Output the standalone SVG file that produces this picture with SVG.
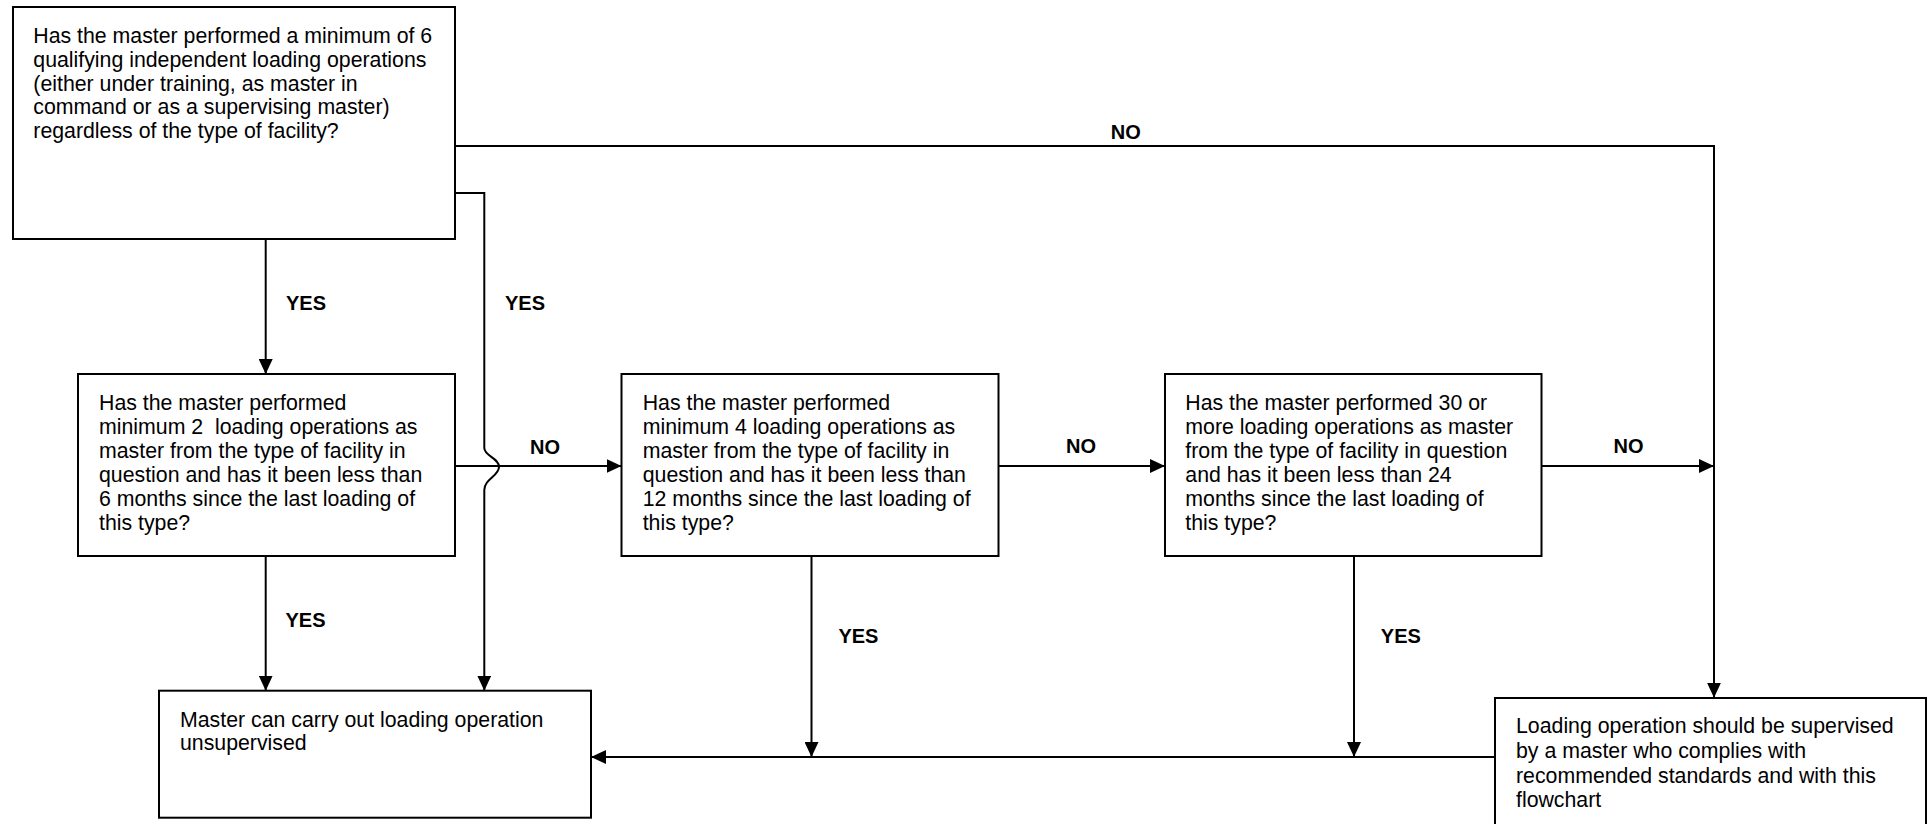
<svg xmlns="http://www.w3.org/2000/svg" width="1930" height="824" viewBox="0 0 1930 824">
<defs>
<style>
.box{fill:#fff;stroke:#000;stroke-width:2}
.t{font-family:"Liberation Sans",Arial,sans-serif;font-size:21.3px;fill:#000;white-space:pre}
.lbl{font-family:"Liberation Sans",Arial,sans-serif;font-size:20px;font-weight:bold;fill:#000}
.c{fill:none;stroke:#000;stroke-width:2}
</style>
<marker id="ah" viewBox="0 0 15 14" refX="15" refY="7" markerWidth="15" markerHeight="14" markerUnits="userSpaceOnUse" orient="auto">
<path d="M0,0 L15,7 L0,14 Z" fill="#000"/>
</marker>
</defs>
<rect width="1930" height="824" fill="#fff"/>
<g id="connectors">
<path class="c" d="M265.7,239 V374" marker-end="url(#ah)"/>
<path class="c" d="M455,193 H484.3 V448 C484.3,456 499,458 499,467 C499,476 484.3,479 484.3,490 V690.7" marker-end="url(#ah)"/>
<path class="c" d="M455,146 H1714 V697.7" marker-end="url(#ah)"/>
<path class="c" d="M455,466 H621.5" marker-end="url(#ah)"/>
<path class="c" d="M998.5,466 H1165" marker-end="url(#ah)"/>
<path class="c" d="M1541.5,466 H1714" marker-end="url(#ah)"/>
<path class="c" d="M265.7,556 V690.7" marker-end="url(#ah)"/>
<path class="c" d="M811.5,556 V757" marker-end="url(#ah)"/>
<path class="c" d="M1354,556 V757" marker-end="url(#ah)"/>
<path class="c" d="M1495,757 H591" marker-end="url(#ah)"/>
<text class="lbl" x="1110.7" y="139">NO</text>
<text class="lbl" x="286" y="310">YES</text>
<text class="lbl" x="505" y="310">YES</text>
<text class="lbl" x="530" y="454">NO</text>
<text class="lbl" x="1066" y="453">NO</text>
<text class="lbl" x="1613.5" y="453">NO</text>
<text class="lbl" x="285.5" y="626.7">YES</text>
<text class="lbl" x="838.4" y="642.7">YES</text>
<text class="lbl" x="1380.8" y="642.5">YES</text>
</g>
<g id="q1">
<rect class="box" x="13" y="7" width="442" height="232"/>
<text class="t" x="33.3" y="43.3">Has the master performed a minimum of 6</text>
<text class="t" x="33.3" y="67">qualifying independent loading operations</text>
<text class="t" x="33.3" y="90.7">(either under training, as master in</text>
<text class="t" x="33.3" y="114.3">command or as a supervising master)</text>
<text class="t" x="33.3" y="138">regardless of the type of facility?</text>
</g>
<g id="q2">
<rect class="box" x="78" y="374" width="377" height="182"/>
<text class="t" x="99" y="409.5">Has the master performed</text>
<text class="t" x="99" y="433.5">minimum 2  loading operations as</text>
<text class="t" x="99" y="457.5">master from the type of facility in</text>
<text class="t" x="99" y="481.7">question and has it been less than</text>
<text class="t" x="99" y="505.9">6 months since the last loading of</text>
<text class="t" x="99" y="530">this type?</text>
</g>
<g id="q3">
<rect class="box" x="621.5" y="374" width="377" height="182"/>
<text class="t" x="642.7" y="409.5">Has the master performed</text>
<text class="t" x="642.7" y="433.5">minimum 4 loading operations as</text>
<text class="t" x="642.7" y="457.5">master from the type of facility in</text>
<text class="t" x="642.7" y="481.7">question and has it been less than</text>
<text class="t" x="642.7" y="505.9">12 months since the last loading of</text>
<text class="t" x="642.7" y="530">this type?</text>
</g>
<g id="q4">
<rect class="box" x="1165" y="374" width="376.5" height="182"/>
<text class="t" x="1185.3" y="409.5">Has the master performed 30 or</text>
<text class="t" x="1185.3" y="433.5">more loading operations as master</text>
<text class="t" x="1185.3" y="457.5">from the type of facility in question</text>
<text class="t" x="1185.3" y="481.7">and has it been less than 24</text>
<text class="t" x="1185.3" y="505.9">months since the last loading of</text>
<text class="t" x="1185.3" y="530">this type?</text>
</g>
<g id="unsupervised">
<rect class="box" x="159" y="690.7" width="432" height="127"/>
<text class="t" x="180" y="726.7">Master can carry out loading operation</text>
<text class="t" x="180" y="750.3">unsupervised</text>
</g>
<g id="supervised">
<rect class="box" x="1495" y="698" width="431" height="140"/>
<text class="t" x="1516" y="733.3">Loading operation should be supervised</text>
<text class="t" x="1516" y="757.9">by a master who complies with</text>
<text class="t" x="1516" y="782.5">recommended standards and with this</text>
<text class="t" x="1516" y="807.1">flowchart</text>
</g>
</svg>
